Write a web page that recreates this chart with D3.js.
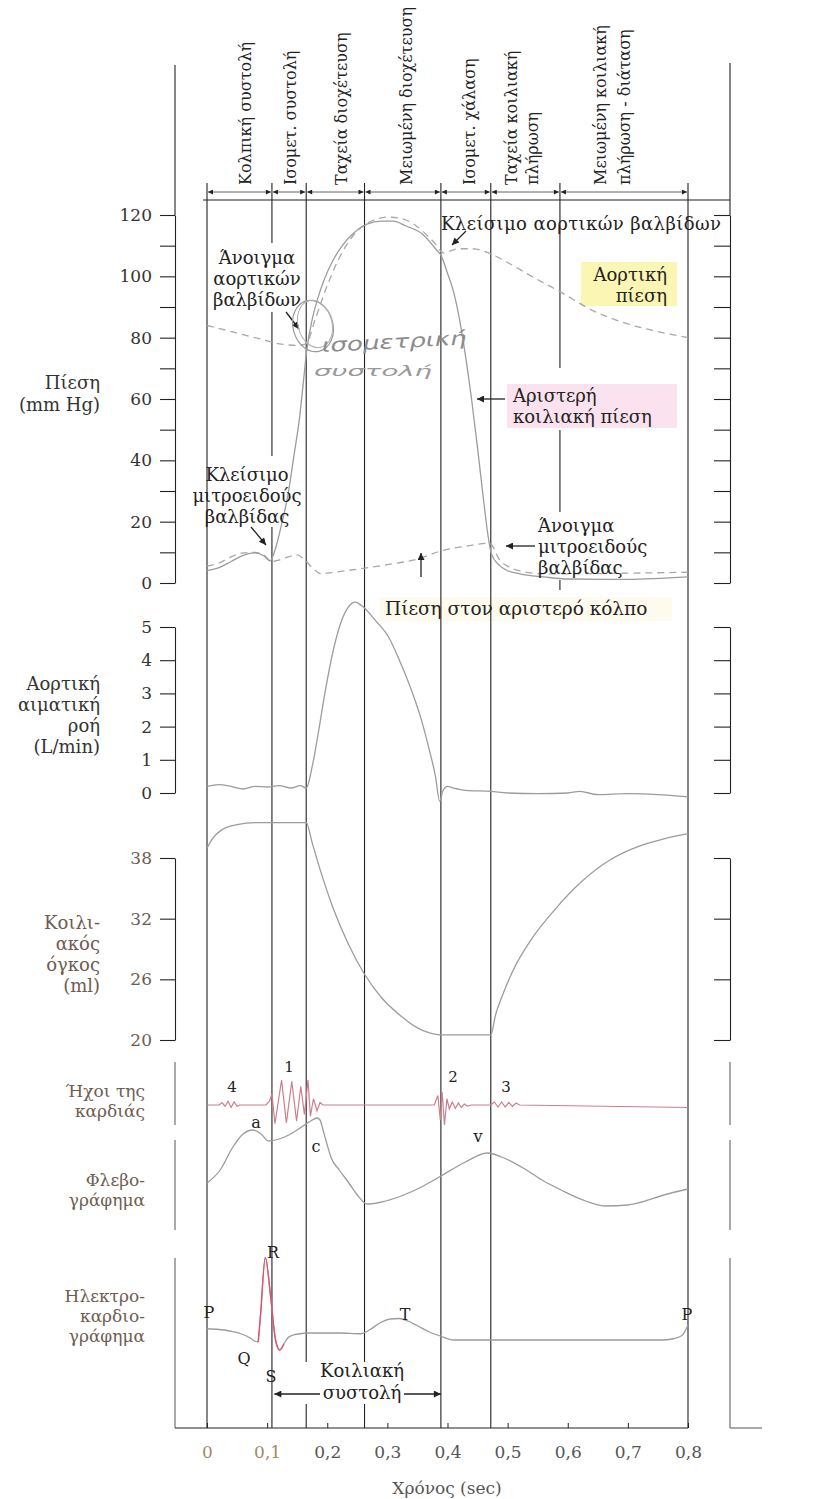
<!DOCTYPE html>
<html lang="el">

<head>
    <meta charset="UTF-8">
    <title>Καρδιακός κύκλος - D3</title>
    <style>
        body {
            margin: 0;
            background: #fff;
        }

        svg {
            display: block;
        }

        text {
            font-family: "DejaVu Serif", "Liberation Serif", serif;
        }
    </style>
</head>

<body>
    <script src="https://d3js.org/d3.v7.min.js"></script>
    <script>
        // ---- δεδομένα (διαβασμένα από το διάγραμμα) ----
        const timeTicks = [0, 0.1, 0.2, 0.3, 0.4, 0.5, 0.6, 0.7, 0.8];
        const timeTickText = ["0", "0,1", "0,2", "0,3", "0,4", "0,5", "0,6", "0,7", "0,8"];

        const phaseTimes = [0, 0.108, 0.165, 0.262, 0.389, 0.472, 0.587, 0.8];
        const phaseNames = [
            ["Κολπική συστολή"], ["Ισομετ. συστολή"], ["Ταχεία διοχέτευση"], ["Μειωμένη διοχέτευση"],
            ["Ισομετ. χάλαση"], ["Ταχεία κοιλιακή", "πλήρωση"], ["Μειωμένη κοιλιακή", "πλήρωση - διάταση"]
        ];

        const pressureTicks = [0, 10, 20, 30, 40, 50, 60, 70, 80, 90, 100, 110, 120];
        const pressureLabels = [0, 20, 40, 60, 80, 100, 120];
        const flowTicks = [0, 1, 2, 3, 4, 5];
        const volumeTicks = [20, 26, 32, 38];

        // πίεση (mm Hg)
        const aorticPressure = [
            [0, 84], [0.03, 82.5], [0.06, 81], [0.09, 79.5], [0.12, 78], [0.15, 77.5], [0.165, 78],
            [0.18, 86], [0.2, 97], [0.22, 106], [0.24, 112.5], [0.26, 116.5], [0.28, 118.5], [0.3, 119.3],
            [0.32, 119], [0.34, 117.5], [0.36, 114.5], [0.38, 110.5], [0.39, 108], [0.395, 107.5],
            [0.405, 108.3], [0.42, 109], [0.44, 109], [0.47, 107.5], [0.5, 104.5], [0.54, 100],
            [0.587, 95], [0.64, 89], [0.7, 84.5], [0.75, 82], [0.8, 80]
        ];
        const ventricularPressure = [
            [0, 4], [0.02, 5], [0.04, 7], [0.06, 9], [0.08, 9.8], [0.095, 8.8], [0.105, 7.2],
            [0.115, 12], [0.125, 20], [0.133, 27], [0.145, 42], [0.154, 54], [0.16, 65], [0.166, 76],
            [0.175, 86], [0.183, 92], [0.195, 99], [0.209, 105], [0.225, 110], [0.243, 114], [0.266, 117],
            [0.29, 118], [0.31, 118], [0.33, 116.5], [0.36, 113.5], [0.38, 109], [0.39, 106.5], [0.4, 101],
            [0.41, 95], [0.42, 86], [0.43, 74], [0.44, 60], [0.45, 44], [0.46, 27], [0.467, 16],
            [0.473, 9.5], [0.485, 6], [0.5, 4], [0.52, 3], [0.56, 2], [0.6, 1.3], [0.7, 1.2], [0.8, 2]
        ];
        const atrialPressure = [
            [0, 5.5], [0.02, 6.5], [0.04, 8.5], [0.06, 9.8], [0.08, 10], [0.095, 9], [0.108, 7],
            [0.12, 7.5], [0.135, 8.5], [0.15, 9.2], [0.16, 8], [0.175, 5], [0.19, 3], [0.21, 3.5],
            [0.25, 4.5], [0.3, 6], [0.35, 7.8], [0.39, 10.5], [0.43, 12], [0.47, 13], [0.475, 12],
            [0.485, 8], [0.5, 5.5], [0.52, 4], [0.56, 3], [0.6, 3], [0.7, 3.2], [0.8, 3.5]
        ];

        // αορτική ροή (L/min)
        const aorticFlow = [
            [0, 0.2], [0.02, 0.25], [0.04, 0.2], [0.06, 0.12], [0.08, 0.2], [0.1, 0.18], [0.12, 0.22],
            [0.14, 0.15], [0.155, 0.22], [0.165, 0.15], [0.175, 0.8], [0.185, 1.8], [0.196, 3.0],
            [0.21, 4.3], [0.222, 5.1], [0.235, 5.6], [0.246, 5.75], [0.26, 5.6], [0.28, 5.2], [0.302, 4.7],
            [0.32, 4.0], [0.342, 3.0], [0.355, 2.3], [0.369, 1.35], [0.38, 0.5], [0.387, -0.25],
            [0.392, 0.05], [0.4, 0.2], [0.41, 0.15], [0.43, 0.08], [0.472, 0.05], [0.5, 0.0],
            [0.55, -0.02], [0.6, 0.0], [0.62, 0.05], [0.65, -0.05], [0.7, -0.02], [0.75, -0.05], [0.8, -0.12]
        ];

        // κοιλιακός όγκος (ml)
        const ventricularVolume = [
            [0, 39], [0.01, 40], [0.025, 40.8], [0.05, 41.3], [0.08, 41.5], [0.165, 41.5], [0.175, 39.5],
            [0.19, 36.5], [0.21, 33], [0.235, 29.5], [0.262, 26.5], [0.29, 24.2], [0.32, 22.5], [0.35, 21.2],
            [0.37, 20.7], [0.389, 20.5], [0.472, 20.5], [0.48, 22.5], [0.49, 24.2], [0.51, 27], [0.54, 30],
            [0.58, 33], [0.62, 35.5], [0.67, 37.8], [0.72, 39.2], [0.76, 39.9], [0.8, 40.4]
        ];

        // ήχοι της καρδιάς (σχετικό πλάτος)
        const heartSounds = [
            [0, 0], [0.02, 0], [0.025, 0.1], [0.03, -0.05], [0.035, 0.15], [0.04, -0.1], [0.045, 0.12],
            [0.05, -0.05], [0.055, 0], [0.098, 0], [0.104, 0.15], [0.108, 0.45], [0.113, -0.75],
            [0.124, 1.0], [0.132, -0.72], [0.141, 0.95], [0.149, -0.65], [0.156, 0.75], [0.162, -0.38],
            [0.168, 1.0], [0.172, -0.45], [0.177, 0.25], [0.183, -0.23], [0.188, 0.1], [0.193, 0],
            [0.378, 0], [0.384, 0.38], [0.388, -0.6], [0.391, 0.52], [0.395, -0.8], [0.399, 0.25],
            [0.403, -0.16], [0.408, 0.12], [0.413, -0.14], [0.418, 0.08], [0.423, -0.1], [0.428, 0.04],
            [0.433, -0.04], [0.44, 0], [0.472, 0], [0.478, 0.12], [0.484, -0.08], [0.49, 0.12],
            [0.496, -0.08], [0.502, 0.1], [0.508, -0.06], [0.514, 0.08], [0.52, 0], [0.8, -0.1]
        ];

        // φλεβογράφημα (σχετικό ύψος)
        const venousPulse = [
            [0, 2.7], [0.022, 4.0], [0.042, 6.2], [0.06, 7.6], [0.076, 8.0], [0.09, 7.6], [0.102, 6.9],
            [0.12, 7.1], [0.136, 7.5], [0.15, 8.0], [0.162, 8.5], [0.175, 9.0], [0.183, 9.2], [0.188, 9.0],
            [0.193, 8.0], [0.2, 6.5], [0.206, 5.3], [0.22, 4.0], [0.236, 2.7], [0.25, 1.5], [0.266, 0.6],
            [0.29, 0.8], [0.323, 1.4], [0.36, 2.4], [0.389, 3.4], [0.43, 4.8], [0.466, 5.7], [0.49, 5.3],
            [0.523, 4.3], [0.56, 2.9], [0.589, 2.0], [0.63, 0.9], [0.663, 0.4], [0.7, 0.5], [0.723, 0.8],
            [0.76, 1.5], [0.8, 2.1]
        ];

        // ηλεκτροκαρδιογράφημα (σχετικό δυναμικό)
        const ecg = [
            [0, 0.25], [0.02, 0.22], [0.04, 0.15], [0.06, 0.02], [0.072, -0.12], [0.08, -0.25], [0.085, -0.28],
            [0.089, 0.8], [0.097, 3.1], [0.106, 1.5], [0.114, -0.2], [0.121, -0.6], [0.128, -0.35],
            [0.135, -0.1], [0.143, 0.0], [0.155, 0.05], [0.165, 0.08], [0.22, 0.08], [0.256, 0.05],
            [0.27, 0.2], [0.289, 0.5], [0.305, 0.64], [0.319, 0.66], [0.335, 0.55], [0.349, 0.38],
            [0.37, 0.12], [0.389, -0.05], [0.41, -0.2], [0.6, -0.2], [0.756, -0.2], [0.775, -0.15],
            [0.79, -0.02], [0.8, 0.4]
        ];

        // ---- σχεδίαση ----
        const INK = "#222";
        const TRACE = "#9c9c9c";
        const BROWN = "#6e5c50";

        const svg = d3.select("body").append("svg")
            .attr("width", 817)
            .attr("height", 1499);

        const x = d3.scaleLinear().domain([0, 0.8]).range([207, 688]);
        const yP = d3.scaleLinear().domain([0, 120]).range([583, 215]);
        const yF = d3.scaleLinear().domain([0, 5]).range([793, 627]);
        const yV = d3.scaleLinear().domain([20, 38]).range([1040, 858]);
        const yS = d3.scaleLinear().domain([-1, 1]).range([1130, 1080]);
        const yJ = d3.scaleLinear().domain([0, 10]).range([1210, 1110]);
        const yE = d3.scaleLinear().domain([-2, 4]).range([1385, 1235]);

        const defs = svg.append("defs");
        defs.append("marker").attr("id", "ah")
            .attr("viewBox", "0 0 10 10").attr("refX", 10).attr("refY", 5)
            .attr("markerWidth", 10).attr("markerHeight", 7)
            .attr("markerUnits", "userSpaceOnUse")
            .attr("orient", "auto-start-reverse")
            .append("path").attr("d", "M0,0L10,5L0,10z").attr("fill", INK);
        defs.append("marker").attr("id", "ahs")
            .attr("viewBox", "0 0 10 10").attr("refX", 10).attr("refY", 5)
            .attr("markerWidth", 7).attr("markerHeight", 5)
            .attr("markerUnits", "userSpaceOnUse")
            .attr("orient", "auto-start-reverse")
            .append("path").attr("d", "M0,0L10,5L0,10z").attr("fill", INK);

        // χρωματιστές επισημάνσεις (highlighter)
        svg.append("rect").attr("x", 581).attr("y", 262).attr("width", 96).attr("height", 44).attr("fill", "#fbf6b4");
        svg.append("rect").attr("x", 507).attr("y", 384).attr("width", 170).attr("height", 44).attr("fill", "#fbe2ef");
        svg.append("rect").attr("x", 380).attr("y", 597).attr("width", 292).attr("height", 24).attr("fill", "#fffaee");

        // κάθετες γραμμές φάσεων (με κενά όπου υπάρχουν κείμενα)
        const phaseSpans = [
            [[183, 1428]],
            [[183, 243], [312, 456], [527, 1428]],
            [[183, 1362], [1404, 1428]],
            [[183, 1362], [1404, 1428]],
            [[183, 1428]],
            [[183, 1428]],
            [[183, 368], [430, 512], [580, 590]],
            [[183, 1428]]
        ];
        phaseTimes.forEach((t, i) => {
            phaseSpans[i].forEach(s => {
                svg.append("line")
                    .attr("x1", x(t)).attr("x2", x(t))
                    .attr("y1", s[0]).attr("y2", s[1])
                    .attr("stroke", INK).attr("stroke-width", 1.1);
            });
        });

        // πάνω γραμμή & βέλη φάσεων
        svg.append("line").attr("x1", 203).attr("x2", 730).attr("y1", 200).attr("y2", 200)
            .attr("stroke", INK).attr("stroke-width", 1.1);
        d3.pairs(phaseTimes).forEach(p => {
            svg.append("line")
                .attr("x1", x(p[0]) + 1).attr("x2", x(p[1]) - 1)
                .attr("y1", 192).attr("y2", 192)
                .attr("stroke", "#555").attr("stroke-width", 0.9)
                .attr("marker-start", "url(#ahs)").attr("marker-end", "url(#ahs)");
        });

        // τίτλοι φάσεων (κάθετα)
        const phaseTextX = [[251], [296], [347], [412], [475], [517, 538], [606, 630]];
        phaseNames.forEach((lines, i) => {
            lines.forEach((s, j) => {
                svg.append("text")
                    .attr("transform", `translate(${phaseTextX[i][j]}, 185) rotate(-90)`)
                    .attr("font-size", 16).attr("fill", INK)
                    .text(s);
            });
        });

        // ---- άξονες ----
        function leftAxis(scale, ticks, fmt, color) {
            const a = svg.append("g").attr("transform", "translate(175,0)")
                .call(d3.axisLeft(scale).tickValues(ticks).tickSize(15).tickSizeOuter(0).tickPadding(8).tickFormat(fmt));
            a.selectAll("path,line").attr("stroke", INK).attr("stroke-width", 1.1);
            a.selectAll("text").attr("font-size", 17).attr("fill", color);
            return a;
        }
        function rightAxis(scale, ticks) {
            const a = svg.append("g").attr("transform", "translate(730,0)")
                .call(d3.axisLeft(scale).tickValues(ticks).tickSize(16).tickSizeOuter(0).tickFormat(""));
            a.selectAll("path,line").attr("stroke", INK).attr("stroke-width", 1.1);
        }

        leftAxis(yP, pressureTicks, d => pressureLabels.includes(d) ? d : "", "#333");
        leftAxis(yF, flowTicks, d => d, "#333");
        leftAxis(yV, volumeTicks, d => d, BROWN);
        rightAxis(yP, pressureTicks);
        rightAxis(yF, flowTicks);
        rightAxis(yV, volumeTicks);

        // προεκτάσεις πλαισίου πίεσης
        svg.append("line").attr("x1", 175).attr("x2", 175).attr("y1", 65).attr("y2", 215).attr("stroke", INK).attr("stroke-width", 1.1);
        svg.append("line").attr("x1", 730).attr("x2", 730).attr("y1", 63).attr("y2", 215).attr("stroke", INK).attr("stroke-width", 1.1);

        // μπάρες για ήχους, φλεβογράφημα, ΗΚΓ
        [[1062, 1125], [1140, 1230], [1258, 1428]].forEach(b => {
            svg.append("line").attr("x1", 175).attr("x2", 175).attr("y1", b[0]).attr("y2", b[1]).attr("stroke", "#555");
            svg.append("line").attr("x1", 730).attr("x2", 730).attr("y1", b[0]).attr("y2", b[1]).attr("stroke", "#555");
        });
        svg.append("line").attr("x1", 730).attr("x2", 762).attr("y1", 1428).attr("y2", 1428).attr("stroke", "#555");

        // άξονας χρόνου
        const xa = svg.append("g").attr("transform", "translate(0,1428)")
            .call(d3.axisBottom(x).tickValues(timeTicks).tickSize(-5).tickSizeOuter(0).tickPadding(18)
                .tickFormat((d, i) => timeTickText[i]));
        xa.select(".domain").remove();
        xa.selectAll("line").attr("stroke", INK);
        xa.selectAll("text").attr("font-size", 17)
            .attr("fill", (d, i) => i < 2 ? "#a08a6a" : "#555");
        svg.append("line").attr("x1", 175).attr("x2", 688).attr("y1", 1428).attr("y2", 1428).attr("stroke", INK).attr("stroke-width", 1.1);
        svg.append("text").attr("x", 447).attr("y", 1494).attr("text-anchor", "middle")
            .attr("font-size", 17).attr("fill", "#555").text("Χρόνος (sec)");

        // ---- καμπύλες ----
        const lineOf = (ys, curve) => d3.line().x(d => x(d[0])).y(d => ys(d[1])).curve(curve);

        svg.append("path").datum(aorticPressure).attr("d", lineOf(yP, d3.curveMonotoneX))
            .attr("fill", "none").attr("stroke", "#a8a8a8").attr("stroke-width", 1.3).attr("stroke-dasharray", "7,5");
        svg.append("path").datum(atrialPressure).attr("d", lineOf(yP, d3.curveMonotoneX))
            .attr("fill", "none").attr("stroke", "#a8a8a8").attr("stroke-width", 1.3).attr("stroke-dasharray", "7,5");
        svg.append("path").datum(ventricularPressure).attr("d", lineOf(yP, d3.curveMonotoneX))
            .attr("fill", "none").attr("stroke", TRACE).attr("stroke-width", 1.3);
        svg.append("path").datum(aorticFlow).attr("d", lineOf(yF, d3.curveMonotoneX))
            .attr("fill", "none").attr("stroke", TRACE).attr("stroke-width", 1.3);
        svg.append("path").datum(ventricularVolume).attr("d", lineOf(yV, d3.curveMonotoneX))
            .attr("fill", "none").attr("stroke", TRACE).attr("stroke-width", 1.3);
        svg.append("path").datum(heartSounds).attr("d", lineOf(yS, d3.curveLinear))
            .attr("fill", "none").attr("stroke", "#cd7f8c").attr("stroke-width", 1.2);
        svg.append("path").datum(venousPulse).attr("d", lineOf(yJ, d3.curveMonotoneX))
            .attr("fill", "none").attr("stroke", TRACE).attr("stroke-width", 1.3);
        svg.append("path").datum(ecg).attr("d", lineOf(yE, d3.curveMonotoneX))
            .attr("fill", "none").attr("stroke", TRACE).attr("stroke-width", 1.3);
        svg.append("path").datum(ecg.filter(d => d[0] >= 0.085 && d[0] <= 0.128)).attr("d", lineOf(yE, d3.curveMonotoneX))
            .attr("fill", "none").attr("stroke", "#e0506a").attr("stroke-width", 1.3);

        // ---- κείμενα ----
        function block(lines, x0, y0, lh, anchor, size, color) {
            const t = svg.append("text").attr("text-anchor", anchor).attr("font-size", size).attr("fill", color);
            lines.forEach((s, i) => t.append("tspan").attr("x", x0).attr("y", y0 + i * lh).text(s));
            return t;
        }
        function arrow(x1, y1, x2, y2) {
            svg.append("line").attr("x1", x1).attr("y1", y1).attr("x2", x2).attr("y2", y2)
                .attr("stroke", INK).attr("stroke-width", 1.3).attr("marker-end", "url(#ah)");
        }

        // ετικέτες αριστερά
        block(["Πίεση", "(mm Hg)"], 100, 389, 22, "end", 18, "#333");
        block(["Αορτική", "αιματική", "ροή", "(L/min)"], 100, 690, 21, "end", 18, "#333");
        block(["Κοιλι-", "ακός", "όγκος", "(ml)"], 100, 929, 21, "end", 18, BROWN);
        block(["Ήχοι της", "καρδιάς"], 145, 1097, 20, "end", 17, BROWN);
        block(["Φλεβο-", "γράφημα"], 145, 1186, 20, "end", 17, BROWN);
        block(["Ηλεκτρο-", "καρδιο-", "γράφημα"], 145, 1302, 20, "end", 17, BROWN);

        // σχόλια πίεσης
        block(["Κλείσιμο αορτικών βαλβίδων"], 441, 230, 20, "start", 18, INK).attr("letter-spacing", 0.4);
        arrow(466, 231, 452, 245);
        block(["Αορτική", "πίεση"], 667, 281, 21, "end", 18, INK);
        block(["Αριστερή", "κοιλιακή πίεση"], 513, 402, 21, "start", 18, INK);
        arrow(505, 399, 477, 399);
        block(["Άνοιγμα", "μιτροειδούς", "βαλβίδας"], 538, 532, 21, "start", 18, INK);
        arrow(535, 546, 506, 546);
        block(["Πίεση στον αριστερό κόλπο"], 385, 615, 20, "start", 18.5, INK);
        arrow(421, 577, 421, 553);
        block(["Άνοιγμα", "αορτικών", "βαλβίδων"], 257, 264, 21, "middle", 18, INK);
        arrow(286, 312, 299, 329);
        block(["Κλείσιμο", "μιτροειδούς", "βαλβίδας"], 247, 481, 21, "middle", 18, INK);
        arrow(251, 527, 266, 545);

        // χειρόγραφη σημείωση
        svg.append("ellipse").attr("cx", 313).attr("cy", 326).attr("rx", 20).attr("ry", 26)
            .attr("transform", "rotate(-15,313,326)")
            .attr("fill", "none").attr("stroke", "#9a9a9a").attr("stroke-width", 1.2);
        svg.append("ellipse").attr("cx", 315).attr("cy", 324).attr("rx", 17).attr("ry", 24)
            .attr("transform", "rotate(-15,315,324)")
            .attr("fill", "none").attr("stroke", "#b0b0b0").attr("stroke-width", 1);
        svg.append("text").attr("x", 322).attr("y", 352).attr("font-size", 19)
            .style("font-family", "DejaVu Sans, sans-serif").attr("font-style", "italic")
            .attr("textLength", 145).attr("lengthAdjust", "spacingAndGlyphs")
            .attr("transform", "rotate(-3,322,352)")
            .attr("fill", "#8c8c8c").text("ισομετρική");
        svg.append("text").attr("x", 314).attr("y", 376).attr("font-size", 14)
            .style("font-family", "DejaVu Sans, sans-serif").attr("font-style", "italic")
            .attr("textLength", 118).attr("lengthAdjust", "spacingAndGlyphs")
            .attr("fill", "#999").text("συστολή");

        // ετικέτες ήχων
        [["4", 232, 1092], ["1", 289, 1072], ["2", 453, 1082], ["3", 506, 1092]].forEach(d => {
            block([d[0]], d[1], d[2], 0, "middle", 15, INK);
        });
        // ετικέτες φλεβογραφήματος
        [["a", 256, 1128], ["c", 316, 1152], ["v", 478, 1142]].forEach(d => {
            block([d[0]], d[1], d[2], 0, "middle", 16, INK);
        });
        // ετικέτες ΗΚΓ
        [["P", 209, 1318], ["R", 273, 1258], ["Q", 244, 1364], ["S", 271, 1382], ["T", 405, 1320], ["P", 687, 1320]].forEach(d => {
            block([d[0]], d[1], d[2], 0, "middle", 16, INK);
        });

        // κοιλιακή συστολή
        svg.append("line").attr("x1", x(0.112)).attr("x2", x(0.389)).attr("y1", 1394).attr("y2", 1394)
            .attr("stroke", INK).attr("stroke-width", 1.3)
            .attr("marker-start", "url(#ah)").attr("marker-end", "url(#ah)");
        svg.append("rect").attr("x", 320).attr("y", 1386).attr("width", 84).attr("height", 16).attr("fill", "#fff");
        block(["Κοιλιακή", "συστολή"], 362, 1377, 22, "middle", 18, INK);
    </script>
</body>

</html>
